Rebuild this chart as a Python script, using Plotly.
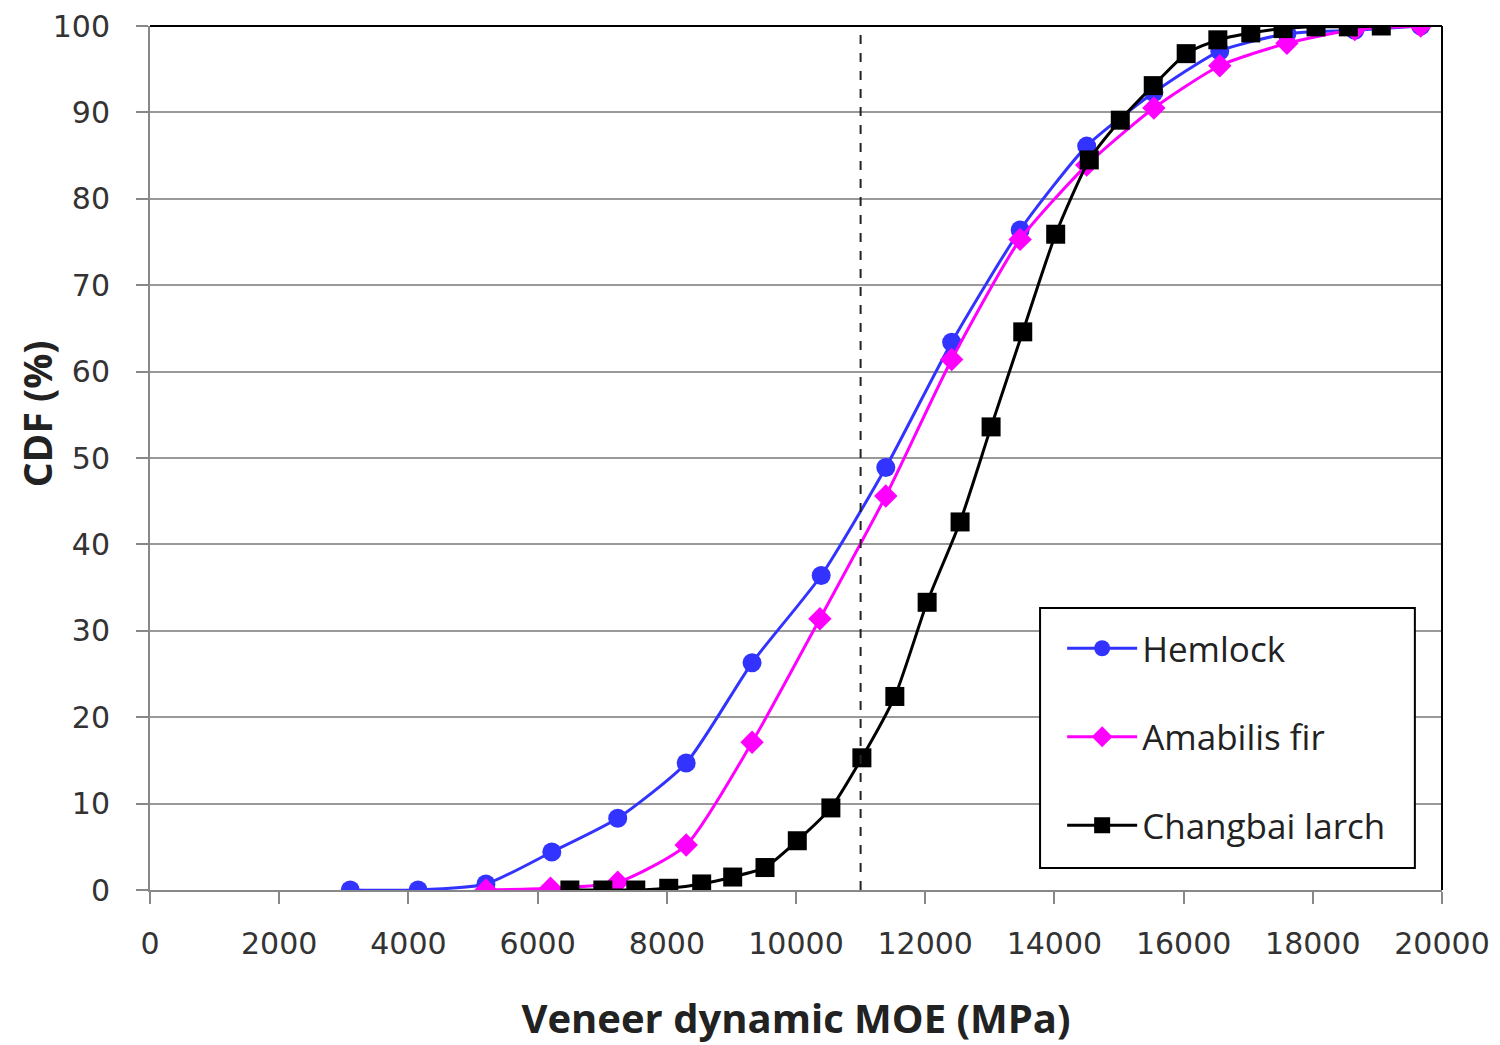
import plotly.graph_objects as go

hem_x = [3100, 4150, 5200, 6220, 7240, 8300, 9320, 10390, 11390, 12410, 13470, 14500, 15540, 16560, 17600, 18650, 19670]
hem_y = [0.0, 0.0, 0.7, 4.4, 8.3, 14.7, 26.3, 36.4, 48.9, 63.4, 76.4, 86.1, 92.3, 97.1, 99.1, 99.5, 100.0]

ama_x = [5200, 6200, 7240, 8300, 9320, 10370, 11390, 12410, 13470, 14500, 15540, 16560, 17600, 18650, 19670]
ama_y = [0.0, 0.2, 0.9, 5.2, 17.1, 31.4, 45.6, 61.4, 75.3, 83.9, 90.5, 95.4, 98.0, 99.6, 100.0]

lar_x = [6500, 7010, 7520, 8030, 8540, 9020, 9520, 10020, 10540, 11020, 11530, 12030, 12540, 13020, 13510,
         14020, 14540, 15020, 15530, 16040, 16530, 17040, 17540, 18050, 18550, 19060]
lar_y = [0.0, 0.0, 0.0, 0.2, 0.7, 1.5, 2.6, 5.7, 9.5, 15.3, 22.4, 33.3, 42.6, 53.6, 64.6,
         75.9, 84.5, 89.1, 93.1, 96.8, 98.4, 99.2, 99.7, 99.9, 99.9, 100.0]

x_ticks = list(range(0, 20001, 2000))
x_ticktext = [str(v) for v in x_ticks]
y_ticks = list(range(0, 101, 10))

ref_x = 11000

fig = go.Figure()
fig.add_trace(go.Scatter(x=hem_x, y=hem_y, name="Hemlock", mode="lines+markers", legendgroup="a",
                         line=dict(color="#3333FF", width=3, shape="spline", smoothing=0.6),
                         marker=dict(symbol="circle", size=19, color="#3333FF")))
fig.add_trace(go.Scatter(x=ama_x, y=ama_y, name="Amabilis fir", mode="lines+markers", legendgroup="b",
                         line=dict(color="#FF00FF", width=3, shape="spline", smoothing=0.6),
                         marker=dict(symbol="diamond", size=18, color="#FF00FF")))
fig.add_trace(go.Scatter(x=lar_x, y=lar_y, name="Changbai larch", mode="lines+markers", legendgroup="c",
                         line=dict(color="#000000", width=3, shape="spline", smoothing=0.6),
                         marker=dict(symbol="square", size=19, color="#000000")))

fig.add_shape(type="line", x0=ref_x, x1=ref_x, y0=0, y1=100, xref="x", yref="y",
              line=dict(color="#222222", width=2, dash="dash"))

# top and right black border
fig.add_shape(type="line", x0=0, x1=1, y0=1, y1=1, xref="paper", yref="paper",
              line=dict(color="#000000", width=2))
fig.add_shape(type="line", x0=1, x1=1, y0=0, y1=1, xref="paper", yref="paper",
              line=dict(color="#000000", width=2))

# legend frame (plot area 864 px tall: 26..890 on screen)
ph = 864.0
fig.add_shape(type="rect", xref="paper", yref="paper", x0=0.6889, x1=0.979,
              y0=(890 - 868) / ph, y1=(890 - 608) / ph,
              line=dict(color="#000000", width=2), fillcolor="white", layer="above")

fig.add_annotation(text="<b>CDF (%)</b>", xref="paper", yref="paper", x=-0.088, y=(890 - 414) / ph,
                   xanchor="center", yanchor="middle", textangle=-90, showarrow=False,
                   font=dict(size=39, color="#222222", family="Open Sans, sans-serif"))

tickfont = dict(size=30, family="DejaVu Sans, Verdana, sans-serif", color="#333333")

fig.update_layout(
    width=1492, height=1037,
    margin=dict(l=142, r=58, t=18, b=155),
    plot_bgcolor="white", paper_bgcolor="white",
    font=dict(family="Open Sans, sans-serif", color="#222222"),
    showlegend=True,
    legend=dict(x=0.706, y=(890 - 619) / ph, xanchor="left", yanchor="top",
                bgcolor="rgba(0,0,0,0)", borderwidth=0,
                font=dict(size=35, color="#222222"), tracegroupgap=40,
                itemwidth=70),
    xaxis=dict(range=[0, 20000], tickvals=x_ticks, ticktext=x_ticktext, automargin=False,
               showgrid=False, zeroline=False, showline=True, linecolor="#888888", linewidth=2,
               ticks="outside", ticklen=12, tickcolor="#888888", tickwidth=2,
               ticklabelstandoff=14, ticklabeloverflow="allow",
               tickfont=tickfont,
               title=dict(text="<b>Veneer dynamic MOE (MPa)</b>", font=dict(size=40, color="#222222"), standoff=53)),
    yaxis=dict(range=[0, 100], tickvals=y_ticks, automargin=False,
               showgrid=True, gridcolor="#999999", gridwidth=2, zeroline=False,
               showline=True, linecolor="#888888", linewidth=2,
               ticks="outside", ticklen=12, tickcolor="#888888", tickwidth=2,
               ticklabelstandoff=20, ticklabeloverflow="allow",
               tickfont=tickfont),
)

fig.write_html("out.html")
